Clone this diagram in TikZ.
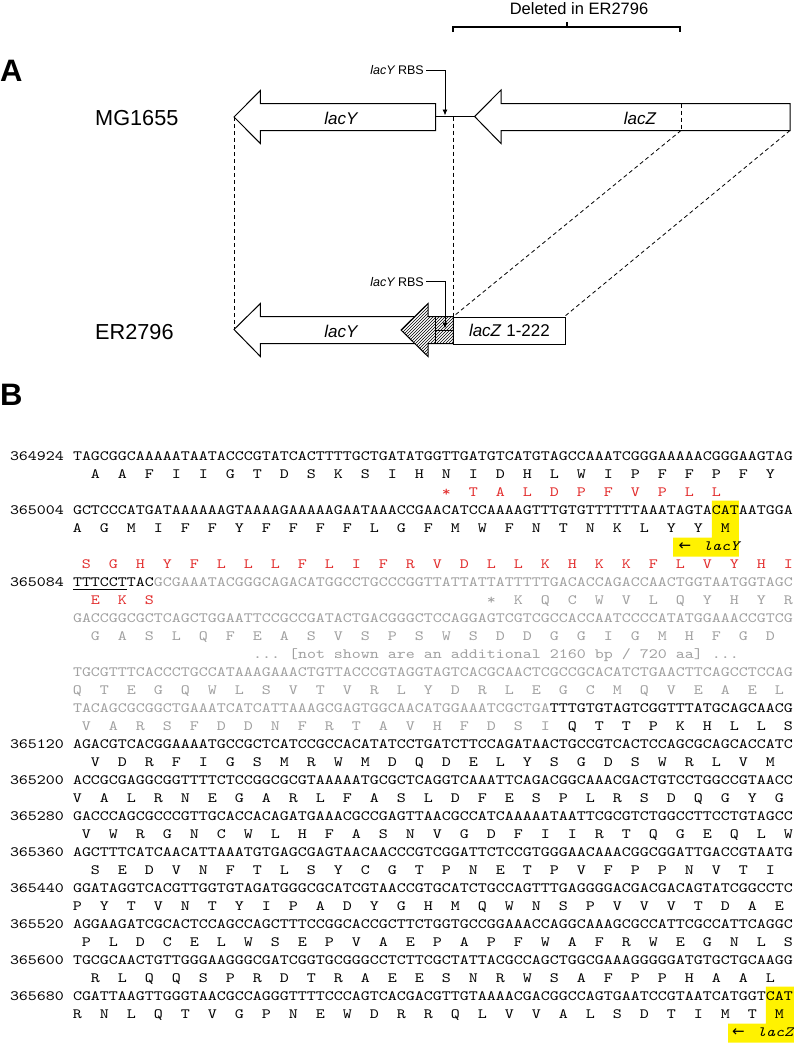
\documentclass[tikz,border=0pt]{standalone}
\usepackage{fontspec}
\setmainfont{Liberation Sans}
\newfontfamily\seqfont{lmmono10-regular.otf}[ItalicFont=lmmono10-italic.otf,FakeStretch=1.2072]
\newfontfamily\arrowfont{DejaVu Sans}
\usetikzlibrary{arrows.meta,patterns}
\definecolor{seqred}{RGB}{226,45,45}
\definecolor{seqgray}{RGB}{160,160,160}
\definecolor{hlyellow}{RGB}{255,242,0}
\newcommand\seqtext{\fontsize{14.2}{18}\selectfont\seqfont\frenchspacing}
\newcommand\seqcw{9}
\newcommand\seqxo{72.8}
\newcommand\aarow[4]{\foreach \l [count=\i from 0] in {#4}{\node[aa,text=#3] (a#1-#2-\i) at ({\seqxo+(#2+3*\i+0.5)*\seqcw},{460.8+18*#1}) {\l};}}
\newcommand\dnarow[3]{\node[seq] (n#1) at ({\seqxo-7*\seqcw},{460.8+18*#1}) {#2};\node[seq] (d#1) at (\seqxo,{460.8+18*#1}) {#3};}
\newcommand\dnaplain[3]{\node[seq,text=#2] (d#1) at (\seqxo,{460.8+18*#1}) {#3};}
\tikzset{
 seq/.style={inner sep=0pt,anchor=base west,font=\seqtext},
 aa/.style={inner sep=0pt,anchor=base,font=\seqtext},
 larrow/.style={inner sep=0pt,anchor=base,font=\fontsize{15}{18}\selectfont\arrowfont},
 gene/.style={draw=black,line width=1pt,fill=white,line join=miter},
 conn/.style={draw=black,line width=0.8pt,dash pattern=on 4pt off 3pt},
 strain/.style={inner sep=0pt,anchor=base west,font=\fontsize{21.7}{24}\selectfont},
 glbl/.style={inner sep=0pt,anchor=base,font=\fontsize{17}{20}\selectfont},
 rbslbl/.style={inner sep=0pt,anchor=base east,font=\fontsize{12.5}{14}\selectfont},
 rbs/.style={draw=black,line width=0.9pt,-{Latex[length=6pt,width=5pt]}},
 panel/.style={inner sep=0pt,anchor=base west,font=\fontsize{31}{34}\selectfont\bfseries},
 brk/.style={draw=black,line width=1.6pt},
}
\begin{document}
\begin{tikzpicture}[x=1pt,y=-1pt]
\useasboundingbox (0,0) rectangle (794,1044);
% ---------------- Panel A ----------------
\node[panel] (pA) at (0,81) {A};
\node[inner sep=0pt,anchor=base,font=\fontsize{16.5}{19}\selectfont] (del) at (579,14) {Deleted in ER2796};
\draw[brk] (453,32) -- (453,27) -- (680,27) -- (680,32);
\draw[brk] (567,27) -- (567,21.5);
% coordinates for connectors
\coordinate (mgYtip) at (234,117);
\coordinate (erYtip) at (234,329.5);
\coordinate (mgDel) at (453.3,116.5);
\coordinate (erDel) at (453.3,316.5);
\coordinate (mgZcut) at (681,130.5);
\coordinate (mgZend) at (790,130.5);
\coordinate (erZend) at (564.5,316.5);
\draw[conn] (mgYtip) -- (erYtip);
\draw[conn] (mgDel) -- (erDel);
\draw[conn] (mgZcut) -- (erDel);
\draw[conn] (mgZend) -- (erZend);
% MG1655
\node[strain] (mg) at (95,125.2) {MG1655};
\draw[gene] (234,117) -- (260.4,90.5) -- (260.4,103.5) -- (435.5,103.5) -- (435.5,130.5) -- (260.4,130.5) -- (260.4,143.5) -- cycle;
\draw[line width=1pt] (435.5,116.5) -- (474.6,116.5);
\draw[gene] (474.6,116.5) -- (501,90) -- (501,103.5) -- (790,103.5) -- (790,130.5) -- (501,130.5) -- (501,143.5) -- cycle;
\draw[conn] (681,103.5) -- (mgZcut);
\node[glbl] (ly1) at (341,124) {\itshape lacY};
\node[glbl] (lz1) at (640,124) {\itshape lacZ};
\node[rbslbl] (rbs1) at (424,74.5) {\itshape lacY\upshape\ RBS};
\draw[rbs] ([xshift=2pt]rbs1.east) -| (445,115.5);
% ER2796
\node[strain] (er) at (95,339) {ER2796};
\draw[gene] (234,329.5) -- (260.4,303.5) -- (260.4,316.5) -- (420,316.5) -- (420,343.5) -- (260.4,343.5) -- (260.4,356.5) -- cycle;
\draw[gene,postaction={pattern=north east lines}] (401,330) -- (428,303.5) -- (428,316.5) -- (453.3,316.5) -- (453.3,343.5) -- (428,343.5) -- (428,356.5) -- cycle;
\draw[line width=1pt] (435.5,316.5) -- (435.5,343.5);
\draw[line width=1pt] (435.5,330) -- (453.3,330);
\node[draw=black,line width=1pt,fill=white,minimum width=111.2pt,minimum height=27pt,inner sep=0pt,anchor=north west,font=\fontsize{17}{20}\selectfont] (lz2) at (453.3,316.5) {\textit{lacZ} 1-222};
\node[glbl] (ly2) at (341,337.7) {\itshape lacY};
\node[rbslbl] (rbs2) at (424,286.2) {\itshape lacY\upshape\ RBS};
\draw[rbs] ([xshift=2pt]rbs2.east) -| (445,328.5);
% ---------------- Panel B ----------------
\node[panel] (pB) at (0,405) {B};
% highlights
\fill[hlyellow] (711.8,500.5) -- (738.8,500.5) -- (738.8,556.5) -- (673.1,556.5) -- (673.1,537.5) -- (711.8,537.5) -- cycle;
\fill[hlyellow] (765.8,986.5) -- (794,986.5) -- (794,1042.5) -- (728.0,1042.5) -- (728.0,1023.5) -- (765.8,1023.5) -- cycle;
% rows
\dnarow{0}{364924}{TAGCGGCAAAAATAATACCCGTATCACTTTTGCTGATATGGTTGATGTCATGTAGCCAAATCGGGAAAAACGGGAAGTAG}
\aarow{1}{2}{black}{A,A,F,I,I,G,T,D,S,K,S,I,H,N,I,D,H,L,W,I,P,F,F,P,F,Y}
\aarow{2}{41}{seqred}{*,T,A,L,D,P,F,V,P,L,L}
\dnarow{3}{365004}{GCTCCCATGATAAAAAAGTAAAAGAAAAAGAATAAACCGAACATCCAAAAGTTTGTGTTTTTTAAATAGTACATAATGGA}
\aarow{4}{0}{black}{A,G,M,I,F,F,Y,F,F,F,F,L,G,F,M,W,F,N,T,N,K,L,Y,Y,M}
\node[larrow] (lacYarr) at (685,550.3) {←};
\node[seq] (lacYlbl) at (702.8,550.8) {\textit{lacY}};
\aarow{6}{1}{seqred}{S,G,H,Y,F,L,L,L,F,L,I,F,R,V,D,L,L,K,H,K,K,F,L,V,Y,H,I}
\dnarow{7}{365084}{TTTCCTTAC\textcolor{seqgray}{GCGAAATACGGGCAGACATGGCCTGCCCGGTTATTATTATTTTTGACACCAGACCAACTGGTAATGGTAGC}}
\draw[line width=1.6pt] (72.8,589.6) -- (126.8,589.6);
\aarow{8}{2}{seqred}{E,K,S}
\aarow{8}{46}{seqgray}{*,K,Q,C,W,V,L,Q,Y,H,Y,R}
\dnaplain{9}{seqgray}{GACCGGCGCTCAGCTGGAATTCCGCCGATACTGACGGGCTCCAGGAGTCGTCGCCACCAATCCCCATATGGAAACCGTCG}
\aarow{10}{2}{seqgray}{G,A,S,L,Q,F,E,A,S,V,S,P,S,W,S,D,D,G,G,I,G,M,H,F,G,D}
\node[seq,text=seqgray] (notshown) at (252.8,658.8) {... [not shown are an additional 2160 bp / 720 aa] ...};
\dnaplain{12}{seqgray}{TGCGTTTCACCCTGCCATAAAGAAACTGTTACCCGTAGGTAGTCACGCAACTCGCCGCACATCTGAACTTCAGCCTCCAG}
\aarow{13}{0}{seqgray}{Q,T,E,G,Q,W,L,S,V,T,V,R,L,Y,D,R,L,E,G,C,M,Q,V,E,A,E,L}
\dnaplain{14}{black}{\textcolor{seqgray}{TACAGCGCGGCTGAAATCATCATTAAAGCGAGTGGCAACATGGAAATCGCTGA}TTTGTGTAGTCGGTTTATGCAGCAACG}
\aarow{15}{1}{seqgray}{V,A,R,S,F,D,D,N,F,R,T,A,V,H,F,D,S,I}
\aarow{15}{55}{black}{Q,T,T,P,K,H,L,L,S}
\dnarow{16}{365120}{AGACGTCACGGAAAATGCCGCTCATCCGCCACATATCCTGATCTTCCAGATAACTGCCGTCACTCCAGCGCAGCACCATC}
\aarow{17}{2}{black}{V,D,R,F,I,G,S,M,R,W,M,D,Q,D,E,L,Y,S,G,D,S,W,R,L,V,M}
\dnarow{18}{365200}{ACCGCGAGGCGGTTTTCTCCGGCGCGTAAAAATGCGCTCAGGTCAAATTCAGACGGCAAACGACTGTCCTGGCCGTAACC}
\aarow{19}{0}{black}{V,A,L,R,N,E,G,A,R,L,F,A,S,L,D,F,E,S,P,L,R,S,D,Q,G,Y,G}
\dnarow{20}{365280}{GACCCAGCGCCCGTTGCACCACAGATGAAACGCCGAGTTAACGCCATCAAAAATAATTCGCGTCTGGCCTTCCTGTAGCC}
\aarow{21}{1}{black}{V,W,R,G,N,C,W,L,H,F,A,S,N,V,G,D,F,I,I,R,T,Q,G,E,Q,L,W}
\dnarow{22}{365360}{AGCTTTCATCAACATTAAATGTGAGCGAGTAACAACCCGTCGGATTCTCCGTGGGAACAAACGGCGGATTGACCGTAATG}
\aarow{23}{2}{black}{S,E,D,V,N,F,T,L,S,Y,C,G,T,P,N,E,T,P,V,F,P,P,N,V,T,I}
\dnarow{24}{365440}{GGATAGGTCACGTTGGTGTAGATGGGCGCATCGTAACCGTGCATCTGCCAGTTTGAGGGGACGACGACAGTATCGGCCTC}
\aarow{25}{0}{black}{P,Y,T,V,N,T,Y,I,P,A,D,Y,G,H,M,Q,W,N,S,P,V,V,V,T,D,A,E}
\dnarow{26}{365520}{AGGAAGATCGCACTCCAGCCAGCTTTCCGGCACCGCTTCTGGTGCCGGAAACCAGGCAAAGCGCCATTCGCCATTCAGGC}
\aarow{27}{1}{black}{P,L,D,C,E,L,W,S,E,P,V,A,E,P,A,P,F,W,A,F,R,W,E,G,N,L,S}
\dnarow{28}{365600}{TGCGCAACTGTTGGGAAGGGCGATCGGTGCGGGCCTCTTCGCTATTACGCCAGCTGGCGAAAGGGGGATGTGCTGCAAGG}
\aarow{29}{2}{black}{R,L,Q,Q,S,P,R,D,T,R,A,E,E,S,N,R,W,S,A,F,P,P,H,A,A,L}
\dnarow{30}{365680}{CGATTAAGTTGGGTAACGCCAGGGTTTTCCCAGTCACGACGTTGTAAAACGACGGCCAGTGAATCCGTAATCATGGTCAT}
\aarow{31}{0}{black}{R,N,L,Q,T,V,G,P,N,E,W,D,R,R,Q,L,V,V,A,L,S,D,T,I,M,T,M}
\node[larrow] (lacZarr) at (738.5,1036.3) {←};
\node[seq] (lacZlbl) at (756.8,1036.8) {\textit{lacZ}};
\end{tikzpicture}
\end{document}
